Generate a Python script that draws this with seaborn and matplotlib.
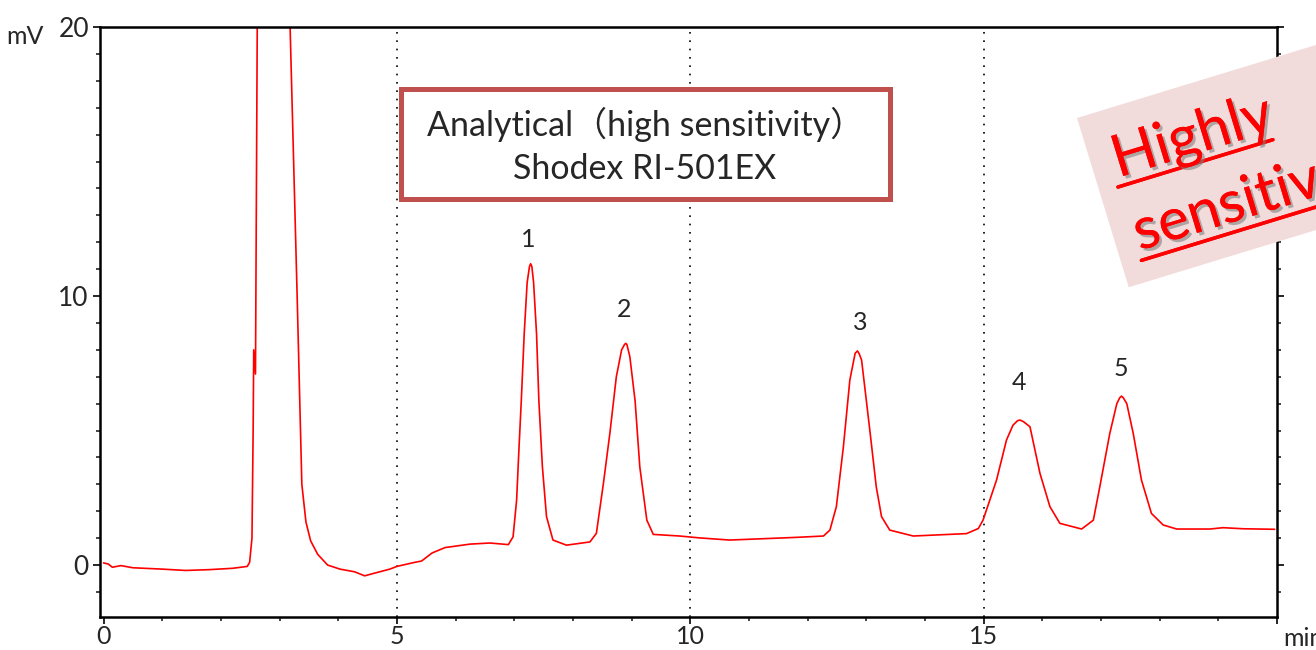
import numpy as np
import pandas as pd
import matplotlib.pyplot as plt
import matplotlib.transforms as mtransforms
import matplotlib.patheffects as pe
from matplotlib.patches import Rectangle
from matplotlib.lines import Line2D
import seaborn as sns

sns.set_style('ticks')
plt.rcParams['font.family'] = ['Lato', 'Noto Sans CJK JP', 'DejaVu Sans']

# chromatogram trace (min, mV)
time_min = [0.0, 0.08, 0.15, 0.3, 0.5, 1.0, 1.4, 1.8, 2.2, 2.45, 2.49, 2.53, 2.55, 2.56, 2.59,
            2.62, 3.18, 3.30, 3.38, 3.45, 3.53, 3.65, 3.82, 4.03, 4.28, 4.45, 4.62, 4.88, 5.0,
            5.3, 5.42, 5.6, 5.82, 6.25, 6.59, 6.9,
            6.98, 7.04, 7.08, 7.12, 7.17, 7.22, 7.26, 7.28, 7.30, 7.33, 7.38, 7.42, 7.48, 7.55, 7.66,
            7.89, 8.29, 8.40, 8.52, 8.63, 8.74, 8.83, 8.88, 8.90, 8.92, 8.97, 9.06, 9.14, 9.26, 9.37,
            9.82, 10.16, 10.67, 11.81, 12.27, 12.38, 12.49, 12.61, 12.72, 12.81, 12.85, 12.88, 12.92,
            13.06, 13.17, 13.26, 13.40, 13.80, 14.71, 14.91, 14.99, 15.22, 15.39, 15.50, 15.58, 15.62,
            15.68, 15.79, 15.96, 16.13, 16.30, 16.67, 16.87, 16.98, 17.15, 17.27, 17.32, 17.35, 17.38,
            17.44, 17.55, 17.69, 17.86, 18.06, 18.29, 18.86, 19.08, 19.42, 19.96]
signal_mv = [0.08, 0.04, -0.08, -0.02, -0.1, -0.15, -0.2, -0.17, -0.12, -0.05, 0.1, 1.0, 5.0, 8.0, 7.1,
             20.0, 20.0, 10.0, 3.0, 1.6, 0.9, 0.4, 0.0, -0.15, -0.25, -0.4, -0.3, -0.15, -0.05,
             0.1, 0.15, 0.45, 0.65, 0.78, 0.82, 0.76,
             1.05, 2.4, 4.3, 6.1, 8.6, 10.5, 11.1, 11.2, 11.1, 10.5, 8.6, 6.1, 3.65, 1.8, 0.93,
             0.74, 0.86, 1.18, 3.04, 4.9, 7.0, 8.0, 8.2, 8.24, 8.2, 7.75, 6.1, 3.65, 1.67, 1.14,
             1.08, 1.01, 0.93, 1.03, 1.08, 1.3, 2.17, 4.4, 6.88, 7.87, 7.96, 7.85, 7.62,
             5.02, 2.91, 1.8, 1.3, 1.08, 1.17, 1.36, 1.67, 3.16, 4.65, 5.2, 5.37, 5.39,
             5.33, 5.14, 3.41, 2.17, 1.55, 1.34, 1.67, 2.91, 4.89, 6.0, 6.22, 6.28, 6.22,
             6.0, 4.89, 3.16, 1.92, 1.49, 1.34, 1.34, 1.39, 1.35, 1.33]

peak_ids = ['1', '2', '3', '4', '5']
peak_label_t = [7.23, 8.87, 12.89, 15.6, 17.34]
peak_label_mv = [12.1, 9.5, 9.0, 6.77, 7.3]

x_ticks = [0, 5, 10, 15, 20]
x_tick_labels = ['0', '5', '10', '15', '']
y_ticks = [0, 10, 20]
grid_t = [5, 10, 15]

df = pd.DataFrame({'t': time_min, 'mV': signal_mv})

fig = plt.figure(figsize=(13.16, 6.5), dpi=100)
ax = fig.add_axes([100 / 1316, 33 / 650, 1177 / 1316, 590 / 650])

sns.lineplot(data=df, x='t', y='mV', color='#ff0000', lw=1.2, estimator=None, ax=ax)

for g in grid_t:
    ax.axvline(g, color='black', ls=(0, (1, 4)), lw=1.2, zorder=1)

ax.set_xlim(-0.06, 20)
ax.set_ylim(-1.93, 20)
ax.set_xticks(x_ticks)
ax.set_xticklabels(x_tick_labels)
ax.set_xticks(np.arange(0, 21, 1), minor=True)
ax.set_yticks(y_ticks)
ax.set_yticks(np.arange(-1, 21, 1), minor=True)
ax.set_xlabel('')
ax.set_ylabel('')
ax.tick_params(which='major', direction='out', length=5, width=1.4, labelsize=19, right=True)
ax.tick_params(which='minor', direction='out', length=3, width=1.2, right=True)
ax.tick_params(axis='x', pad=1, labelsize=18)
ax.tick_params(axis='y', pad=3)
for s in ax.spines.values():
    s.set_visible(True)
    s.set_linewidth(1.8)
    s.set_color('black')

fig.text(1283 / 1316, 12 / 650, 'min', fontsize=18, va='center', ha='left')
fig.text(6 / 1316, (650 - 37) / 650, 'mV', fontsize=18, va='center', ha='left')

for pid, pt, pv in zip(peak_ids, peak_label_t, peak_label_mv):
    ax.text(pt, pv, pid, fontsize=18, ha='center', va='center')

# boxed caption
ax.add_patch(Rectangle((5.07, 13.6), 8.33, 4.1, facecolor='white', edgecolor='#c0504d', lw=3.6, zorder=3))
ax.text(9.23, 15.58, 'Analytical（high sensitivity）\nShodex RI-501EX', fontsize=24.5,
        ha='center', va='center', multialignment='center', linespacing=1.4, zorder=4)

# tilted "Highly sensitive" stamp, laid out in a rotated local frame (pixels)
rot = mtransforms.Affine2D().scale(1, -1).rotate_deg(17).translate(1077, 532)
fig.add_artist(Rectangle((0, 0), 360, 177, transform=rot, facecolor='#f2dcdb',
                         edgecolor='none', zorder=5))
shadow = [pe.withSimplePatchShadow(offset=(2, -2), shadow_rgbFace='gray', alpha=0.6), pe.Normal()]
fig.text(22, 69, 'Highly', transform=rot, rotation=17, rotation_mode='anchor', fontsize=42,
         color='#ff0000', ha='left', va='baseline', zorder=6, path_effects=shadow)
fig.text(21, 145, 'sensitive', transform=rot, rotation=17, rotation_mode='anchor', fontsize=42,
         color='#ff0000', ha='left', va='baseline', zorder=6, path_effects=shadow)
fig.add_artist(Line2D([19, 181], [78, 78], transform=rot, color='#ff0000', lw=2.5, zorder=6,
                      path_effects=shadow))
fig.add_artist(Line2D([20, 400], [155, 155], transform=rot, color='#ff0000', lw=2.5, zorder=6,
                      path_effects=shadow))

fig.savefig('out.png', dpi=100)
